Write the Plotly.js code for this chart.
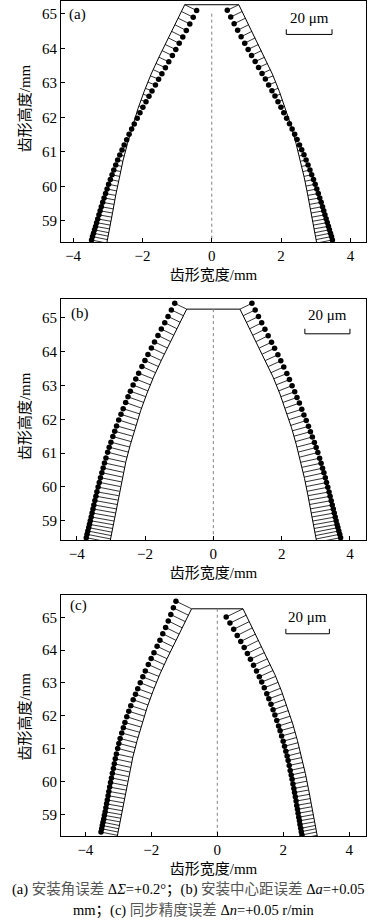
<!DOCTYPE html>
<html>
<head>
<meta charset="utf-8">
<script src="https://cdn.plot.ly/plotly-3.0.1.min.js"></script>
<style>html,body{margin:0;padding:0;background:#fff;}#chart{width:377px;height:921px;}</style>
</head>
<body>
<div id="chart"></div>
<script>
// ---------- data ----------
// theoretical tooth profile: height (mm) and half width (mm)
const profY = [65.26, 64.75, 64.25, 63.75, 63.25, 62.75, 62.25, 61.75, 61.25, 60.75, 60.25, 59.75, 59.25, 58.75, 58.4, 58.3];
const profW = [0.78, 1.03, 1.28, 1.52, 1.75, 1.95, 2.13, 2.29, 2.43, 2.56, 2.67, 2.77, 2.86, 2.95, 3.02, 3.04];

// heights of the measuring points on the theoretical profile (mm)
const heights = [65.26, 65.065, 64.87, 64.68, 64.49, 64.30, 64.11, 63.93, 63.74, 63.56,
  63.38, 63.20, 63.02, 62.84, 62.67, 62.50, 62.33, 62.16, 61.99, 61.82,
  61.66, 61.50, 61.34, 61.18, 61.03, 60.88, 60.73, 60.58, 60.43, 60.29,
  60.15, 60.01, 59.87, 59.74, 59.61, 59.48, 59.35, 59.23, 59.11, 58.99,
  58.88, 58.77, 58.66, 58.56, 58.46, 58.36];

// normal deviation of the simulated surface (μm, + = outward)
const devA_L = [-5.8, -5.75, -5.7, -5.6, -5.5, -5.35, -5.2, -5.0, -4.75, -4.5,
  -4.2, -3.85, -3.55, -3.1, -2.7, -2.3, -1.85, -1.4, -1.0, -0.5,
  -0.05, 0.4, 0.8, 1.25, 1.6, 2.0, 2.35, 2.7, 3.05, 3.35,
  3.65, 4.0, 4.25, 4.5, 4.8, 5.05, 5.3, 5.5, 5.7, 5.9,
  6.1, 6.25, 6.4, 6.55, 6.7, 6.8];
const devA_R = [-5.6, -5.55, -5.5, -5.4, -5.3, -5.15, -5.0, -4.8, -4.55, -4.3,
  -4.0, -3.65, -3.3, -2.9, -2.5, -2.1, -1.7, -1.3, -0.85, -0.4,
  0.05, 0.5, 0.9, 1.3, 1.7, 2.1, 2.45, 2.8, 3.15, 3.45,
  3.8, 4.1, 4.4, 4.65, 4.95, 5.2, 5.45, 5.65, 5.85, 6.05,
  6.25, 6.45, 6.6, 6.75, 6.9, 7.0];
const devB_L = [5.9, 5.95, 6.0, 6.05, 6.15, 6.2, 6.3, 6.4, 6.5, 6.6,
  6.7, 6.8, 7.0, 7.1, 7.25, 7.4, 7.5, 7.65, 7.8, 8.0,
  8.15, 8.3, 8.45, 8.6, 8.8, 8.9, 9.0, 9.15, 9.25, 9.35,
  9.5, 9.6, 9.7, 9.8, 9.9, 10.0, 10.1, 10.15, 10.25, 10.3,
  10.4, 10.45, 10.5, 10.6, 10.65, 10.7];
const devB_R = [5.9, 5.9, 5.9, 5.95, 5.95, 5.95, 6.0, 6.05, 6.1, 6.15,
  6.2, 6.25, 6.3, 6.4, 6.5, 6.6, 6.75, 6.85, 7.0, 7.2,
  7.4, 7.6, 7.8, 8.0, 8.2, 8.35, 8.5, 8.65, 8.8, 8.95,
  9.1, 9.2, 9.35, 9.5, 9.6, 9.75, 9.85, 10.0, 10.1, 10.2,
  10.3, 10.4, 10.5, 10.6, 10.7, 10.8];
const devC_L = [8.0, 7.7, 7.4, 7.15, 6.9, 6.75, 6.6, 6.6, 6.6, 6.65,
  6.7, 6.75, 6.8, 6.9, 7.0, 7.1, 7.25, 7.4, 7.5, 7.6,
  7.65, 7.7, 7.75, 7.8, 7.8, 7.75, 7.7, 7.7, 7.65, 7.6,
  7.6, 7.6, 7.6, 7.6, 7.6, 7.6, 7.6, 7.6, 7.6, 7.6,
  7.65, 7.65, 7.7, 7.7, 7.7, 7.7];
const devC_R = [-8.6, -8.3, -8.0, -7.8, -7.6, -7.45, -7.3, -7.2, -7.1, -7.0,
  -6.95, -6.9, -6.8, -6.75, -6.7, -6.65, -6.6, -6.55, -6.5, -6.5,
  -6.45, -6.45, -6.4, -6.4, -6.4, -6.4, -6.45, -6.45, -6.5, -6.5,
  -6.5, -6.55, -6.55, -6.6, -6.6, -6.6, -6.65, -6.65, -6.7, -6.7,
  -6.7, -6.75, -6.75, -6.8, -6.8, -6.8];

const panelLabels = ['(a)', '(b)', '(c)'];
const scaleBarUm = 20;          // scale bar value (μm)
const scaleBarLen = 1.32;       // its length in plot mm
const xTicks = [-4, -2, 0, 2, 4];
const yTicks = [59, 60, 61, 62, 63, 64, 65];
const xTitle = '齿形宽度/mm';
const yTitle = '齿形高度/mm';
const centerTop = [65.0, 65.26, 65.26];

// ---------- layout helpers ----------
const UM = scaleBarLen / scaleBarUm;
const panels = [
  {L: devA_L, R: devA_R, xr: [-4.35, 4.45], yr: [58.39, 65.37], dom: [0.7372, 0.999],
   bar: [2.15, 64.40], barText: 64.88, lab: [0.019, 0.942], ytY: 0.555},
  {L: devB_L, R: devB_R, xr: [-4.46, 4.47], yr: [58.43, 65.55], dom: [0.4137, 0.675],
   bar: [2.68, 64.53], barText: 65.09, lab: [0.026, 0.942], ytY: 0.515},
  {L: devC_L, R: devC_R, xr: [-4.74, 4.51], yr: [58.34, 65.69], dom: [0.0923, 0.3543],
   bar: [2.08, 64.50], barText: 65.02, lab: [0.023, 0.957], ytY: 0.495}
];

function profAt(h) {
  for (let k = 0; k < profY.length - 1; k++) {
    if (h <= profY[k] + 1e-9 && h >= profY[k + 1]) {
      const t = (profY[k] - h) / (profY[k] - profY[k + 1]);
      const s = (profW[k + 1] - profW[k]) / (profY[k] - profY[k + 1]);
      return {w: profW[k] + t * (profW[k + 1] - profW[k]), s: s};
    }
  }
  const k = profY.length - 2;
  const s = (profW[k + 1] - profW[k]) / (profY[k] - profY[k + 1]);
  return {w: profW[k + 1] + (profY[k + 1] - h) * s, s: s};
}

const serif = 'Liberation Serif, Times New Roman, Noto Sans CJK SC, serif';
const traces = [];
const annotations = [];
const layout = {
  width: 377, height: 921, margin: {l: 0, r: 0, t: 0, b: 0},
  paper_bgcolor: '#fff', plot_bgcolor: '#fff', showlegend: false,
  font: {family: serif, color: '#000', size: 14}
};

panels.forEach((p, i) => {
  const sfx = i === 0 ? '' : String(i + 1);
  const xa = 'x' + sfx, ya = 'y' + sfx;
  // profile line
  const px = [], py = [];
  for (let k = profY.length - 1; k >= 0; k--) { px.push(-profW[k]); py.push(profY[k]); }
  for (let k = 0; k < profY.length; k++) { px.push(profW[k]); py.push(profY[k]); }
  traces.push({x: px, y: py, xaxis: xa, yaxis: ya, mode: 'lines', type: 'scatter',
    line: {color: '#000', width: 1}, hoverinfo: 'skip'});
  // center line
  traces.push({x: [0, 0], y: [centerTop[i], p.yr[0] - 1], xaxis: xa, yaxis: ya, mode: 'lines',
    type: 'scatter', line: {color: '#808080', width: 1, dash: 'dot'}, hoverinfo: 'skip'});
  // deviation hatches + dots
  const hx = [], hy = [], dx = [], dy = [];
  [[-1, p.L], [1, p.R]].forEach(([side, dev]) => {
    heights.forEach((h, j) => {
      const pr = profAt(h);
      const fx = side * pr.w, fy = h;
      const norm = Math.sqrt(1 + pr.s * pr.s);
      const nx = side / norm, ny = pr.s / norm;
      const ox = fx + nx * dev[j] * UM, oy = fy + ny * dev[j] * UM;
      hx.push(fx, ox, null); hy.push(fy, oy, null);
      dx.push(ox); dy.push(oy);
    });
  });
  traces.push({x: hx, y: hy, xaxis: xa, yaxis: ya, mode: 'lines', type: 'scatter',
    line: {color: '#000', width: 0.8}, hoverinfo: 'skip'});
  traces.push({x: dx, y: dy, xaxis: xa, yaxis: ya, mode: 'markers', type: 'scatter',
    marker: {color: '#000', size: 5.5}, hoverinfo: 'skip'});
  // scale bar
  const bx0 = p.bar[0], bx1 = p.bar[0] + scaleBarUm * UM, by = p.bar[1], bt = 0.15;
  traces.push({x: [bx0, bx0, bx1, bx1], y: [by + bt, by, by, by + bt], xaxis: xa, yaxis: ya,
    mode: 'lines', type: 'scatter', line: {color: '#000', width: 1}, hoverinfo: 'skip'});
  annotations.push({xref: xa, yref: ya, x: (bx0 + bx1) / 2, y: p.barText, text: scaleBarUm + ' μm',
    showarrow: false, font: {family: serif, size: 15, color: '#000'}, xanchor: 'center', yanchor: 'middle'});
  annotations.push({xref: xa + ' domain', yref: ya + ' domain', x: p.lab[0], y: p.lab[1], text: panelLabels[i],
    showarrow: false, font: {family: serif, size: 15, color: '#000'}, xanchor: 'left', yanchor: 'middle'});
  // y axis title (placed as rotated text)
  annotations.push({xref: 'paper', yref: ya + ' domain', x: 25 / 377, y: p.ytY, text: yTitle, textangle: -90,
    showarrow: false, font: {family: serif, size: 15, color: '#000'}, xanchor: 'center', yanchor: 'middle'});
  const axCommon = {showline: true, mirror: true, linecolor: '#000', linewidth: 1, ticks: 'inside',
    ticklen: 4, tickcolor: '#000', showgrid: false, zeroline: false,
    tickfont: {family: serif, size: 15, color: '#000'}};
  layout['xaxis' + sfx] = Object.assign({}, axCommon, {domain: [0.1618, 0.9708], range: p.xr,
    anchor: ya, tickvals: xTicks,
    title: {text: xTitle, font: {family: serif, size: 15}, standoff: 6}});
  layout['yaxis' + sfx] = Object.assign({}, axCommon, {domain: p.dom, range: p.yr,
    anchor: xa, tickvals: yTicks});
});

const grey = '#555';
annotations.push({xref: 'paper', yref: 'paper', x: 0.50, y: 0.0337, xanchor: 'center', yanchor: 'middle',
  showarrow: false, font: {family: serif, size: 14.5, color: '#000'},
  text: '(a) <span style="color:' + grey + '">安装角误差</span> Δ<i>Σ</i>=+0.2°；(b) <span style="color:' + grey + '">安装中心距误差</span> Δ<i>a</i>=+0.05'});
annotations.push({xref: 'paper', yref: 'paper', x: 0.515, y: 0.0119, xanchor: 'center', yanchor: 'middle',
  showarrow: false, font: {family: serif, size: 14.5, color: '#000'},
  text: 'mm；(c) <span style="color:' + grey + '">同步精度误差</span> Δ<i>n</i>=+0.05 r/min'});

layout.annotations = annotations;
Plotly.newPlot('chart', traces, layout, {displayModeBar: false, staticPlot: true});
</script>
</body>
</html>
